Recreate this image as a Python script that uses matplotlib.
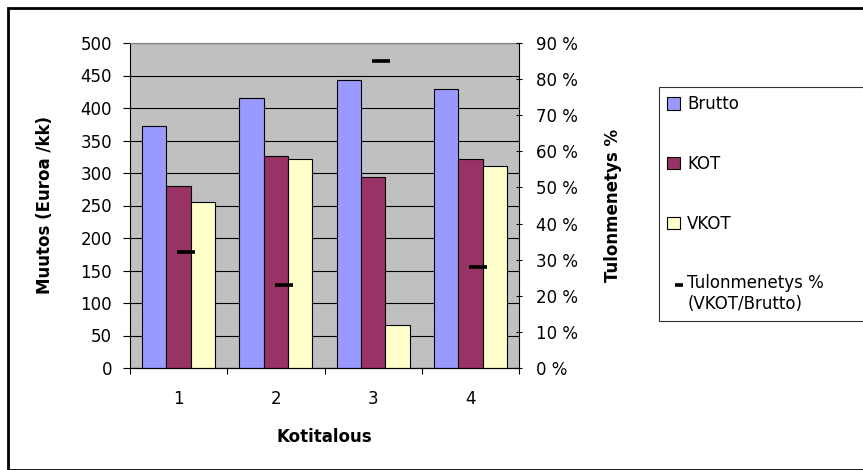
import numpy as np
import matplotlib
matplotlib.use('Agg')
from matplotlib import pyplot as plt
from matplotlib.patches import Patch, Rectangle
from matplotlib.lines import Line2D
from matplotlib.legend_handler import HandlerLine2D
from matplotlib.ticker import FuncFormatter, MultipleLocator

plt.rcParams['font.family'] = ['DejaVu Sans']

kotitalous = ['1', '2', '3', '4']
brutto = [373, 415, 443, 430]
kot = [280, 326, 294, 322]
vkot = [255, 322, 66, 311]
tulonmenetys = [0.32, 0.23, 0.85, 0.28]


class FirstLineHandler(HandlerLine2D):
    # put the dash next to the first line of a two-line label
    def create_artists(self, legend, orig_handle, xdescent, ydescent, width, height, fontsize, trans):
        arts = super().create_artists(legend, orig_handle, xdescent, ydescent, width, height, fontsize, trans)
        for a in arts:
            a.set_ydata([y + 0.6 * fontsize for y in a.get_ydata()])
            a.set_xdata([xx + 0.3 * fontsize for xx in a.get_xdata()])
        return arts


fig = plt.figure(figsize=(8.63, 4.70), dpi=100)
ax = fig.add_axes([130 / 863, 1 - 368 / 470, 389 / 863, 325 / 470])
ax.set_facecolor('#C0C0C0')

x = np.arange(1, len(kotitalous) + 1)
w = 0.25
ax.bar(x - w, brutto, w, color='#9999FF', edgecolor='black', linewidth=0.8, zorder=3)
ax.bar(x, kot, w, color='#993366', edgecolor='black', linewidth=0.8, zorder=3)
ax.bar(x + w, vkot, w, color='#FFFFCC', edgecolor='black', linewidth=0.8, zorder=3)

ax.set_xlim(0.5, 4.5)
ax.set_ylim(0, 500)
ax.yaxis.set_major_locator(MultipleLocator(50))
ax.grid(axis='y', color='black', linewidth=0.8, zorder=0)
ax.set_axisbelow(True)
ax.set_xticks(x)
ax.set_xticklabels(kotitalous)
ax.set_xticks(np.arange(0.5, 4.6, 1), minor=True)
ax.tick_params(axis='x', which='major', length=0, pad=16, labelsize=12)
ax.tick_params(axis='x', which='minor', length=4.5, direction='out', width=0.8)
ax.tick_params(axis='y', length=5, direction='out', width=0.8, labelsize=12, pad=8)
ax.spines['top'].set_color('#808080')
ax.spines['right'].set_visible(False)
ax.set_ylabel('Muutos (Euroa /kk)', fontsize=12, fontweight='bold')
ax.yaxis.set_label_coords(-0.195, 0.5)
ax.set_xlabel('Kotitalous', fontsize=12, fontweight='bold', labelpad=14)

ax2 = ax.twinx()
ax2.plot(x + 0.08, tulonmenetys, linestyle='none', marker='_', markersize=13,
         markeredgewidth=2.6, color='black', zorder=5)
ax2.set_ylim(0, 0.9)
ax2.yaxis.set_major_locator(MultipleLocator(0.1))
ax2.yaxis.set_major_formatter(FuncFormatter(lambda v, p: '%d %%' % round(v * 100)))
ax2.tick_params(axis='y', length=5, direction='inout', width=0.8, labelsize=12, pad=10)
ax2.spines['top'].set_visible(False)
ax2.spines['left'].set_visible(False)
ax2.set_ylabel('Tulonmenetys %', fontsize=12, fontweight='bold')
ax2.yaxis.set_label_coords(1.218, 0.5)

dash = Line2D([], [], linestyle='none', marker='_', markersize=6, markeredgewidth=2.6, color='black')
handles = [
    Patch(facecolor='#9999FF', edgecolor='black', linewidth=0.8),
    Patch(facecolor='#993366', edgecolor='black', linewidth=0.8),
    Patch(facecolor='#FFFFCC', edgecolor='black', linewidth=0.8),
    dash,
]
labels = ['Brutto', 'KOT', 'VKOT', 'Tulonmenetys %\n(VKOT/Brutto)']
leg = fig.legend(handles, labels, loc='upper left',
                 bbox_to_anchor=(659 / 863, 1 - 324 / 470, 215 / 863, 237 / 470),
                 mode='expand', fontsize=12, frameon=True, fancybox=False,
                 edgecolor='black', handlelength=0.75, handleheight=0.75,
                 handletextpad=0.45, labelspacing=2.5, borderpad=0.5, borderaxespad=0,
                 handler_map={dash: FirstLineHandler()})
leg.get_frame().set_linewidth(0.8)

fig.patches.append(Rectangle((8 / 863, 0), 1, 1 - 8 / 470, transform=fig.transFigure,
                             fill=False, edgecolor='black', linewidth=2))

fig.savefig('out.png', dpi=100)
